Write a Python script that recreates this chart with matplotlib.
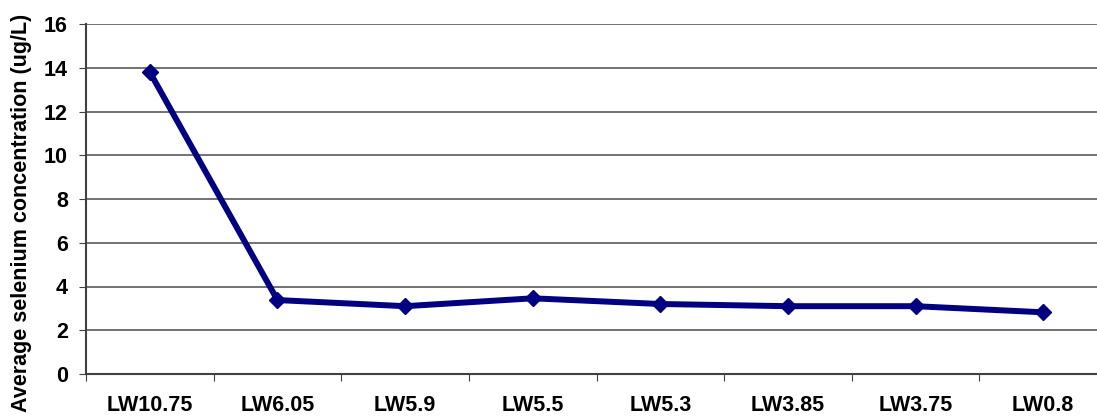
import matplotlib
matplotlib.use('Agg')
import matplotlib.pyplot as plt
import numpy as np

sites = ['LW10.75', 'LW6.05', 'LW5.9', 'LW5.5', 'LW5.3', 'LW3.85', 'LW3.75', 'LW0.8']
selenium = [13.8, 3.38, 3.1, 3.46, 3.2, 3.1, 3.1, 2.82]
yticks = [0, 2, 4, 6, 8, 10, 12, 14, 16]

plt.rcParams['font.family'] = ['Liberation Sans', 'DejaVu Sans']
plt.rcParams['font.weight'] = 'bold'
plt.rcParams['axes.labelweight'] = 'bold'

fig = plt.figure(figsize=(10.97, 4.18), dpi=100)
ax = fig.add_axes([86 / 1097, (418 - 374) / 418, (1107 - 86) / 1097, 350 / 418])

x = np.arange(len(sites))
ax.plot(x, selenium, color='#000080', linewidth=4.3, marker='D', markersize=8.5,
        solid_joinstyle='miter', zorder=3)

ax.set_xlim(-0.5, len(sites) - 0.5)
ax.set_ylim(0, 16)
ax.set_yticks(yticks)
ax.set_yticklabels([str(v) for v in yticks], fontsize=15.5, fontweight='bold')
ax.yaxis.grid(True, color='#5a5a5a', linewidth=1.2)
ax.set_axisbelow(True)

ax.set_xticks(np.arange(len(sites) + 1) - 0.5)
ax.set_xticklabels([])
ax.set_xticks(x, minor=True)
ax.set_xticklabels(sites, minor=True, fontsize=15.5, fontweight='bold')
ax.tick_params(axis='x', which='minor', length=0, pad=15)
ax.tick_params(axis='x', which='major', length=5, color='#404040', direction='out')
ax.tick_params(axis='y', length=5, color='#404040', pad=8)

ax.set_ylabel('Average selenium concentration (ug/L)', fontsize=15.5, fontweight='bold')
ax.yaxis.label.set_fontweight('bold')
ax.yaxis.set_label_coords(-0.053, 0.46)

for s in ['top', 'right']:
    ax.spines[s].set_visible(False)
ax.spines['left'].set_color('#404040')
ax.spines['bottom'].set_color('#404040')
ax.spines['left'].set_linewidth(1.5)
ax.spines['bottom'].set_linewidth(1.5)

fig.savefig('out.png', dpi=100)
